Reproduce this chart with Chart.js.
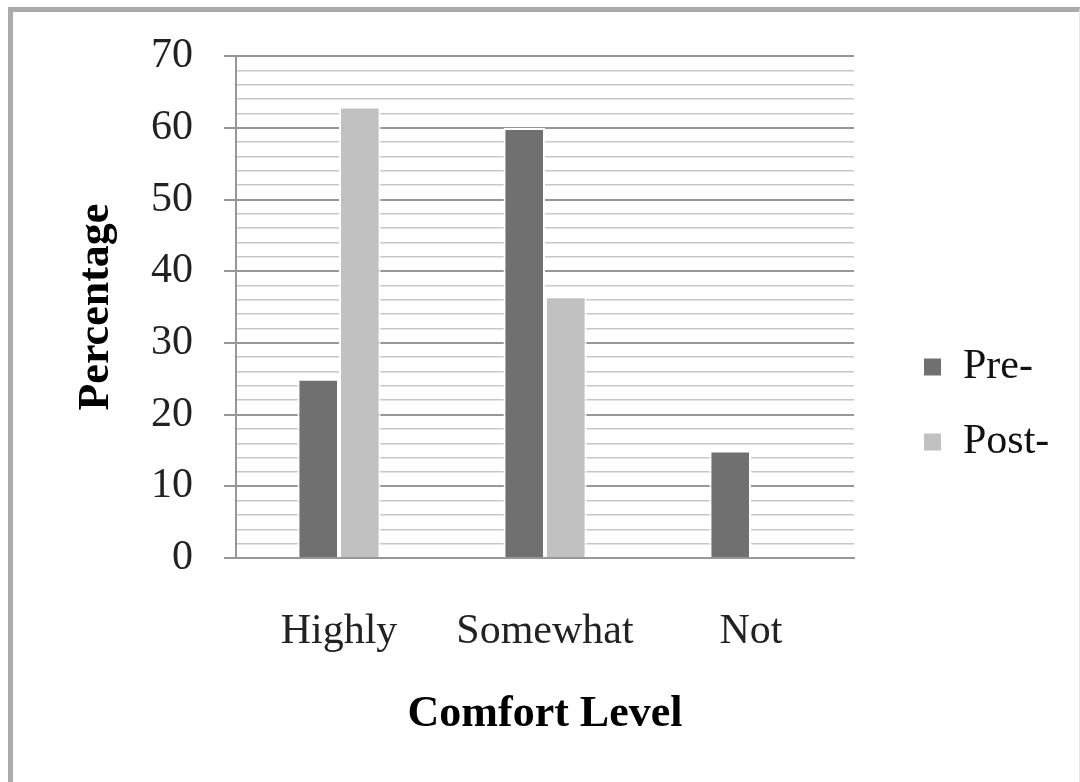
<!DOCTYPE html>
<html><head><meta charset="utf-8">
<script src="https://cdn.jsdelivr.net/npm/chart.js@4/dist/chart.umd.min.js"></script>
<style>
html,body{margin:0;padding:0;background:#fff;}
#wrap{position:relative;width:1080px;height:782px;overflow:hidden;}
#frame{position:absolute;left:8px;top:7px;width:1066px;height:780px;border-left:5px solid #ababab;border-top:5px solid #ababab;border-right:1px solid #e8e8e8;pointer-events:none;}
canvas{position:absolute;left:0;top:0;}
</style></head><body>
<div id="wrap"><canvas id="c" width="1080" height="782" style="width:1080px;height:782px"></canvas><div id="frame"></div></div>
<script>
const categories = ['Highly', 'Somewhat', 'Not'];
const seriesNames = ['Pre-', 'Post-'];
const preValues = [25, 60, 15];
const postValues = [63, 36.5, 0];
const yTickLabels = [0, 10, 20, 30, 40, 50, 60, 70];
const xTitle = 'Comfort Level';
const yTitle = 'Percentage';

const SERIF = '"Liberation Serif", "DejaVu Serif", serif';
const MAJOR = '#979797';
const MINOR = '#c7c7c7';

new Chart(document.getElementById('c'), {
  type: 'bar',
  data: {
    labels: categories,
    datasets: [
      { label: seriesNames[0], data: preValues, backgroundColor: '#707070', borderColor: '#ffffff', borderWidth: 2 },
      { label: seriesNames[1], data: postValues, backgroundColor: '#c1c1c1', borderColor: '#ffffff', borderWidth: 2 }
    ]
  },
  options: {
    responsive: false,
    animation: false,
    categoryPercentage: 0.4035,
    barPercentage: 1,
    layout: { padding: { left: 70, top: 55, right: 26, bottom: 28 } },
    plugins: {
      legend: {
        position: 'right',
        labels: {
          boxWidth: 19, boxHeight: 19, padding: 33, color: '#111',
          font: { family: SERIF, size: 42 }
        }
      },
      tooltip: { enabled: false }
    },
    scales: {
      x: {
        grid: { display: false, drawTicks: false },
        border: { display: true, color: MAJOR, width: 2 },
        ticks: { padding: 49, color: '#222', font: { family: SERIF, size: 42 } },
        title: { display: true, text: xTitle, color: '#000', font: { family: SERIF, size: 44, weight: 'bold' }, padding: { top: 0, bottom: 13 } },
        afterFit(s) { s.height = 196; }
      },
      y: {
        min: 0, max: 70,
        ticks: {
          stepSize: 2, maxTicksLimit: 100, autoSkip: false, padding: 31, color: '#222',
          font: { family: SERIF, size: 42 },
          callback: (v) => yTickLabels.includes(v) ? String(v) : ''
        },
        grid: {
          color: (ctx) => (ctx.tick && ctx.tick.value % 10 === 0) ? MAJOR : MINOR,
          lineWidth: (ctx) => (ctx.tick && ctx.tick.value % 10 === 0) ? 2 : 1.6,
          tickLength: 12,
          tickColor: (ctx) => (ctx.tick && ctx.tick.value % 10 === 0) ? MAJOR : 'rgba(0,0,0,0)',
          tickWidth: 2
        },
        border: { display: true, color: MAJOR, width: 2 },
        title: { display: true, text: yTitle, color: '#000', font: { family: SERIF, size: 44, weight: 'bold' }, padding: { top: 0, bottom: 0 } },
        afterFit(s) { s.width = 166; }
      },
      gap: {
        position: 'right', display: true,
        grid: { display: false, drawTicks: false },
        ticks: { display: false },
        border: { display: false },
        afterFit(s) { s.width = 36; }
      }
    }
  }
});
</script>
</body></html>
